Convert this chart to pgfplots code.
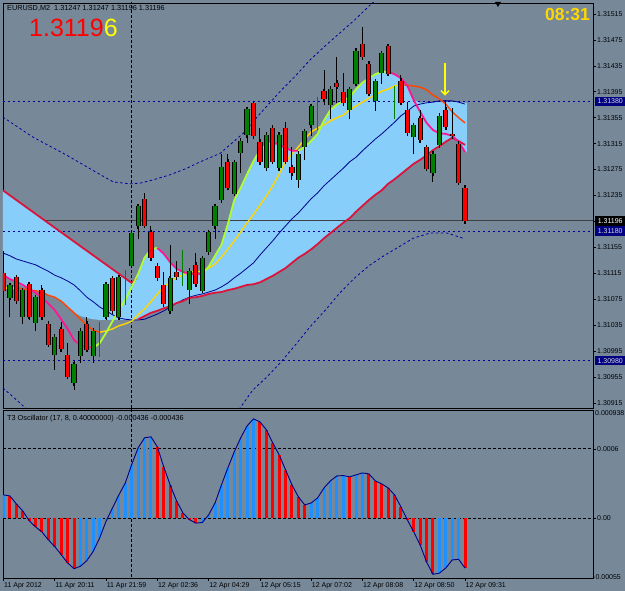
\documentclass[border=0pt]{standalone}
\usepackage{pgfplots}
\pgfplotsset{compat=1.18}
\usepackage{pgfplotstable}
\usepackage{fontspec}
\setmainfont{Liberation Sans}
\usetikzlibrary{arrows.meta}

\definecolor{bgc}{RGB}{119,136,153}
\definecolor{cloud}{RGB}{135,206,250}
\definecolor{cgreen}{RGB}{0,128,0}
\definecolor{cred}{RGB}{255,0,0}
\definecolor{mtlime}{RGB}{173,255,47}
\definecolor{mtpink}{RGB}{255,20,147}
\definecolor{mtcrim}{RGB}{220,20,60}
\definecolor{mtyel}{RGB}{255,215,0}
\definecolor{mtorng}{RGB}{255,69,0}
\definecolor{mtnavy}{RGB}{0,0,139}
\definecolor{dashb}{RGB}{0,0,160}
\definecolor{oblue}{RGB}{30,144,255}
\definecolor{boxb}{RGB}{0,0,128}
\definecolor{arrowy}{RGB}{255,255,0}

% candles: i open high low close
\pgfplotstableread{
i o h l c
0 1.31117 1.31151 1.31086 1.31089
2 1.31109 1.31112 1.31069 1.31072
4 1.31098 1.31101 1.31044 1.31048
6 1.31089 1.31098 1.31044 1.31048
7 1.31038 1.31041 1.31003 1.31006
9 1.31029 1.31040 1.30995 1.30998
10 1.30989 1.31007 1.30953 1.30956
13 1.31038 1.31048 1.30995 1.30998
17 1.31109 1.31112 1.31055 1.31058
22 1.31230 1.31239 1.31186 1.31189
23 1.31179 1.31189 1.31135 1.31139
24 1.31128 1.31131 1.31106 1.31109
25 1.31098 1.31118 1.31066 1.31069
27 1.31118 1.31135 1.31106 1.31109
30 1.31128 1.31148 1.31095 1.31098
35 1.31288 1.31300 1.31245 1.31248
39 1.31379 1.31382 1.31325 1.31328
40 1.31319 1.31339 1.31284 1.31287
42 1.31339 1.31342 1.31284 1.31287
44 1.31339 1.31348 1.31284 1.31287
45 1.31279 1.31310 1.31259 1.31270
50 1.31396 1.31429 1.31375 1.31385
52 1.31410 1.31450 1.31378 1.31404
53 1.31395 1.31424 1.31375 1.31378
56 1.31469 1.31495 1.31446 1.31449
57 1.31439 1.31443 1.31390 1.31393
60 1.31466 1.31469 1.31421 1.31424
62 1.31412 1.31421 1.31375 1.31378
63 1.31368 1.31379 1.31330 1.31333
65 1.31355 1.31367 1.31317 1.31321
66 1.31310 1.31313 1.31274 1.31277
69 1.31368 1.31382 1.31338 1.31341
70 1.31330 1.31371 1.31324 1.31327
71 1.31316 1.31319 1.31253 1.31256
72 1.31247 1.31247 1.31196 1.31196
}\redcandles

\pgfplotstableread{
i o h l c
1 1.31078 1.31100 1.31048 1.31097
3 1.31048 1.31092 1.31038 1.31089
5 1.31038 1.31081 1.31027 1.31078
8 1.30989 1.31020 1.30967 1.31017
11 1.30947 1.30980 1.30935 1.30976
12 1.30989 1.31030 1.30976 1.31027
14 1.30989 1.31030 1.30976 1.31027
16 1.31048 1.31101 1.31044 1.31098
18 1.31048 1.31112 1.31044 1.31109
20 1.31128 1.31182 1.31125 1.31179
21 1.31189 1.31222 1.31169 1.31219
26 1.31058 1.31159 1.31055 1.31109
29 1.31089 1.31121 1.31069 1.31118
31 1.31089 1.31142 1.31086 1.31139
32 1.31148 1.31182 1.31145 1.31179
33 1.31188 1.31222 1.31169 1.31219
34 1.31228 1.31300 1.31225 1.31279
36 1.31239 1.31291 1.31236 1.31288
37 1.31300 1.31322 1.31270 1.31319
38 1.31328 1.31371 1.31317 1.31368
41 1.31279 1.31333 1.31276 1.31330
43 1.31279 1.31333 1.31276 1.31330
46 1.31259 1.31303 1.31248 1.31300
47 1.31310 1.31337 1.31290 1.31334
48 1.31344 1.31376 1.31328 1.31373
51 1.31375 1.31404 1.31355 1.31401
54 1.31367 1.31402 1.31353 1.31399
55 1.31408 1.31463 1.31405 1.31459
58 1.31382 1.31415 1.31367 1.31412
59 1.31424 1.31458 1.31408 1.31455
64 1.31325 1.31347 1.31300 1.31344
67 1.31270 1.31303 1.31256 1.31300
68 1.31313 1.31361 1.31310 1.31358
}\greencandles

\pgfplotstableread{
i h l
15 1.31038 1.30989
19 1.31118 1.31069
28 1.31149 1.31098
49 1.31385 1.31339
61 1.31402 1.31356
}\dojis

% T3 oscillator
\pgfplotstableread{
i v
0 0.000200
1 0.000191
2 0.000122
3 0.000061
4 -0.000023
5 -0.000078
6 -0.000122
7 -0.000191
8 -0.000249
9 -0.000319
10 -0.000391
11 -0.000441
12 -0.000420
13 -0.000371
14 -0.000290
15 -0.000174
16 -0.000029
17 0.000087
18 0.000200
19 0.000304
20 0.000464
21 0.000609
22 0.000696
23 0.000705
24 0.000618
25 0.000443
26 0.000287
27 0.000148
28 0.000043
29 -0.000015
30 -0.000045
31 -0.000040
32 0.000026
33 0.000130
34 0.000287
35 0.000435
36 0.000574
37 0.000696
38 0.000800
39 0.000861
40 0.000835
41 0.000766
42 0.000652
43 0.000548
44 0.000418
45 0.000287
46 0.000183
47 0.000113
48 0.000130
49 0.000174
50 0.000261
51 0.000322
52 0.000365
53 0.000368
54 0.000357
55 0.000374
56 0.000391
57 0.000383
58 0.000322
59 0.000296
60 0.000261
61 0.000200
62 0.000096
63 -0.000017
64 -0.000122
65 -0.000235
66 -0.000383
67 -0.000490
68 -0.000480
69 -0.000435
70 -0.000365
71 -0.000360
72 -0.000436
}\osc

\pgfplotstableread{
i v
0 0.000200
12 -0.000420
13 -0.000371
14 -0.000290
15 -0.000174
16 -0.000029
17 0.000087
18 0.000200
19 0.000304
20 0.000464
21 0.000609
22 0.000696
23 0.000705
31 -0.000040
32 0.000026
33 0.000130
34 0.000287
35 0.000435
36 0.000574
37 0.000696
38 0.000800
39 0.000861
48 0.000130
49 0.000174
50 0.000261
51 0.000322
52 0.000365
53 0.000368
55 0.000374
56 0.000391
68 -0.000480
69 -0.000435
70 -0.000365
71 -0.000360
}\oscblue

\pgfplotstableread{
i v
1 0.000191
2 0.000122
3 0.000061
4 -0.000023
5 -0.000078
6 -0.000122
7 -0.000191
8 -0.000249
9 -0.000319
10 -0.000391
11 -0.000441
24 0.000618
25 0.000443
26 0.000287
27 0.000148
28 0.000043
29 -0.000015
30 -0.000045
40 0.000835
41 0.000766
42 0.000652
43 0.000548
44 0.000418
45 0.000287
46 0.000183
47 0.000113
54 0.000357
57 0.000383
58 0.000322
59 0.000296
60 0.000261
61 0.000200
62 0.000096
63 -0.000017
64 -0.000122
65 -0.000235
66 -0.000383
67 -0.000490
72 -0.000436
}\oscred

\pgfplotsset{
  mt/.style={scale only axis, width=590pt, xmin=-0.078, xmax=91.96,
    axis line style={black, line width=0.8pt},
    tick style={black, line width=0.6pt},
    clip mode=individual, scaled y ticks=false, scaled x ticks=false,
    tick align=outside, major tick length=3pt,
    ticklabel style={font=\fontsize{7}{8}\selectfont, text=black},
  },
  wick/.style={draw=none, mark=none, forget plot,
    error bars/.cd, y dir=both, y explicit, error mark=none,
    error bar style={draw=black, line width=1pt}},
  bodyout/.style={draw=none, mark=none, forget plot,
    error bars/.cd, y dir=both, y explicit, error mark=-,
    error mark options={draw=black, line width=1.4pt, mark size=2.6pt},
    error bar style={draw=black, line width=5.2pt}},
  bodyfill/.style={draw=none, mark=none, forget plot,
    error bars/.cd, y dir=both, y explicit, error mark=none,
    error bar style={draw=#1, line width=3.2pt}},
}

\begin{document}
\begin{tikzpicture}[x=1pt,y=1pt]
\path[use as bounding box] (0,0) rectangle (625,591);
\fill[bgc] (0,0) rectangle (625,591);

% ---------------- main price panel ----------------
\begin{axis}[mt, at={(3pt,183pt)}, anchor=south west, height=405pt,
  ymin=1.309071, ymax=1.315320,
  xtick=\empty,
  ytick={1.30915,1.30955,1.30995,1.31035,1.31075,1.31115,1.31155,1.31195,1.31235,1.31275,1.31315,1.31355,1.31395,1.31435,1.31475,1.31515},
  yticklabels={1.30915,1.30955,1.30995,1.31035,1.31075,1.31115,1.31155,1.31195,1.31235,1.31275,1.31315,1.31355,1.31395,1.31435,1.31475,1.31515},
  ytick pos=right, yticklabel pos=right,
  yticklabel style={anchor=west, inner sep=0pt, xshift=1pt},
]
% cloud
\addplot[fill=cloud, draw=none, forget plot] coordinates {
(-0.1,1.31243) (20,1.31100) (20.8,1.31108)
(21,1.31114) (22,1.31139) (23,1.31152) (24,1.31154) (25,1.31145) (26,1.31132) (27,1.31122) (28,1.31117) (29,1.31114) (30,1.31114) (31,1.31114) (32,1.31125) (33,1.31142) (34,1.31159) (35,1.31191) (36,1.31228) (37,1.31247) (38,1.31268) (39,1.31288) (40,1.31305) (41,1.31313) (42,1.31316) (43,1.31314) (44,1.31308) (45,1.31304) (46,1.31304) (47,1.31310) (48,1.31319) (49,1.31330) (50,1.31351) (51,1.31367) (52,1.31375) (53,1.31381) (54,1.31387) (55,1.31399) (56,1.31409) (57,1.31416) (58,1.31422) (59,1.31426) (60,1.31426) (61,1.31422) (62,1.31416) (63,1.31404) (64,1.31382) (65,1.31378) (66,1.31379) (67,1.31379) (68,1.31379) (69,1.31379) (70,1.31379) (71,1.31379) (72.3,1.31378)
(72.3,1.31302) (72,1.31302) (71,1.31318) (70,1.31324) (69,1.31318) (68,1.31311) (67,1.31305) (66,1.31297) (65,1.31290) (64,1.31284) (63,1.31276) (62,1.31268) (61,1.31260) (60,1.31253) (59,1.31243) (58,1.31236) (57,1.31228) (56,1.31219) (55,1.31210) (54,1.31200) (53,1.31193) (52,1.31185) (51,1.31177) (50,1.31169) (49,1.31160) (48,1.31152) (47,1.31145) (46,1.31139) (45,1.31131) (44,1.31123) (43,1.31117) (42,1.31111) (41,1.31106) (40,1.31101) (39,1.31098) (38,1.31097) (37,1.31094) (36,1.31091) (35,1.31089) (34,1.31086) (33,1.31085) (32,1.31083) (31,1.31080) (30,1.31078) (29,1.31077) (28,1.31072) (27,1.31069) (26,1.31064) (25,1.31061) (24,1.31057) (23,1.31054) (22,1.31049) (21,1.31044) (20,1.31043) (15,1.31043) (14,1.31044) (13,1.31046) (12,1.31049) (11,1.31055) (10,1.31063) (9,1.31072) (8,1.31078) (7,1.31081) (6,1.31086) (5,1.31088) (4,1.31091) (3,1.31095) (2,1.31100) (1,1.31106) (-0.1,1.31112)
} --cycle;

% envelope bands (dashed)
\addplot[dashb, line width=0.8pt, dash pattern=on 2.5pt off 2.5pt, forget plot] coordinates {
(-0.1,1.31356) (4.6,1.31325) (9.9,1.31297) (14.6,1.31270) (17.1,1.31256) (19.7,1.31253) (21.3,1.31254) (23.3,1.31259) (26.0,1.31267) (28.6,1.31277) (30.7,1.31287) (33.8,1.31300) (37.4,1.31331) (40.0,1.31361) (43.1,1.31395) (45.5,1.31419) (47.8,1.31444) (50.2,1.31466) (52.5,1.31486) (54.8,1.31506) (57.2,1.31529) (59.5,1.31549)};
\addplot[dashb, line width=0.8pt, dash pattern=on 2.5pt off 2.5pt, forget plot] coordinates {
(-0.1,1.30938) (2.1,1.30919) (4.1,1.30901)};
\addplot[dashb, line width=0.8pt, dash pattern=on 2.5pt off 2.5pt, forget plot] coordinates {
(35.0,1.30889) (36.9,1.30907) (38.9,1.30935) (41.1,1.30955) (43.1,1.30976) (45.5,1.31004) (47.8,1.31032) (50.2,1.31058) (52.5,1.31085) (54.8,1.31108) (57.2,1.31128) (59.5,1.31143) (61.4,1.31154) (63.9,1.31169) (66.5,1.31177) (69.2,1.31177) (71.7,1.31169)};

% horizontal levels
\addplot[dashb, line width=0.8pt, dash pattern=on 2.5pt off 2.5pt, forget plot] coordinates {(-0.1,1.31380) (92,1.31380)};
\addplot[dashb, line width=0.8pt, dash pattern=on 2.5pt off 2.5pt, forget plot] coordinates {(-0.1,1.31180) (92,1.31180)};
\addplot[dashb, line width=0.8pt, dash pattern=on 2.5pt off 2.5pt, forget plot] coordinates {(-0.1,1.30980) (92,1.30980)};
\addplot[black!75, line width=1.2pt, forget plot] coordinates {(6.47,1.31196) (92,1.31196)};
% period separator
\addplot[black, line width=0.8pt, dash pattern=on 3pt off 2pt, forget plot] coordinates {(19.97,1.3090) (19.97,1.3154)};

% navy MA
\addplot[mtnavy, line width=0.8pt, forget plot] coordinates {
(0,1.31146) (1,1.31142) (2,1.31137) (3,1.31134) (4,1.31131) (5,1.31128) (6,1.31123) (7,1.31118) (8,1.31112) (9,1.31108) (10,1.31103) (11,1.31097) (12,1.31088) (13,1.31078) (14,1.31071) (15,1.31063) (16,1.31057) (17,1.31051) (18,1.31046) (19,1.31044) (20,1.31043) (21,1.31043) (22,1.31044) (23,1.31048) (24,1.31052) (25,1.31057) (26,1.31063) (27,1.31069) (28,1.31074) (29,1.31078) (30,1.31081) (31,1.31083) (32,1.31086) (33,1.31089) (34,1.31094) (35,1.31100) (36,1.31108) (37,1.31115) (38,1.31123) (39,1.31131) (40,1.31143) (41,1.31154) (42,1.31165) (43,1.31177) (44,1.31188) (45,1.31199) (46,1.31208) (47,1.31219) (48,1.31230) (49,1.31239) (50,1.31250) (51,1.31259) (52,1.31268) (53,1.31277) (54,1.31287) (55,1.31294) (56,1.31304) (57,1.31313) (58,1.31322) (59,1.31330) (60,1.31339) (61,1.31348) (62,1.31358) (63,1.31365) (64,1.31373) (65,1.31376) (66,1.31378) (67,1.31379) (68,1.31381) (69,1.31381) (70,1.31381) (71,1.31379) (72,1.31376)};

% yellow / orange MA
\addplot[mtyel, line width=1.4pt, forget plot] coordinates {(0,1.31092) (1,1.31092) (2,1.31092)};
\addplot[mtorng, line width=1.4pt, forget plot] coordinates {
(2,1.31092) (3,1.31091) (4,1.31089) (5,1.31088) (6,1.31086) (7,1.31081) (8,1.31078) (9,1.31072) (10,1.31063) (11,1.31054) (12,1.31044) (13,1.31035) (14,1.31027) (15,1.31024)};
\addplot[mtyel, line width=1.4pt, forget plot] coordinates {
(15,1.31024) (16,1.31026) (17,1.31029) (18,1.31034) (19,1.31037) (20,1.31041) (21,1.31051) (22,1.31060) (23,1.31071) (24,1.31083) (25,1.31094) (26,1.31102) (27,1.31109) (28,1.31112) (29,1.31117) (30,1.31118) (31,1.31118) (32,1.31123) (33,1.31129) (34,1.31140) (35,1.31152) (36,1.31165) (37,1.31179) (38,1.31193) (39,1.31206) (40,1.31220) (41,1.31234) (42,1.31250) (43,1.31268) (44,1.31287) (45,1.31299) (46,1.31310) (47,1.31322) (48,1.31333) (49,1.31339) (50,1.31344) (51,1.31350) (52,1.31355) (53,1.31359) (54,1.31367) (55,1.31373) (56,1.31379) (57,1.31385) (58,1.31390) (59,1.31396) (60,1.31399) (61,1.31404) (62,1.31406)};
\addplot[mtorng, line width=1.4pt, forget plot] coordinates {
(62,1.31406) (63,1.31405) (64,1.31404) (65,1.31402) (66,1.31398) (67,1.31390) (68,1.31384) (69,1.31376) (70,1.31364) (71,1.31355) (72,1.31347)};

% crimson slow line
\addplot[mtcrim, line width=1.8pt, forget plot] coordinates {(-0.1,1.31243) (10,1.31171) (20,1.31100) (20.8,1.31108)};
\addplot[mtcrim, line width=1.8pt, forget plot] coordinates {
(21,1.31044) (22,1.31049) (23,1.31054) (24,1.31057) (25,1.31061) (26,1.31064) (27,1.31069) (28,1.31072) (29,1.31077) (30,1.31078) (31,1.31080) (32,1.31083) (33,1.31085) (34,1.31086) (35,1.31089) (36,1.31091) (37,1.31094) (38,1.31097) (39,1.31098) (40,1.31101) (41,1.31106) (42,1.31111) (43,1.31117) (44,1.31123) (45,1.31131) (46,1.31139) (47,1.31145) (48,1.31152) (49,1.31160) (50,1.31169) (51,1.31177) (52,1.31185) (53,1.31193) (54,1.31200) (55,1.31210) (56,1.31219) (57,1.31228) (58,1.31236) (59,1.31243) (60,1.31253) (61,1.31260) (62,1.31268) (63,1.31276) (64,1.31284) (65,1.31290) (66,1.31297) (67,1.31305) (68,1.31311) (69,1.31318) (70,1.31324) (71,1.31319) (72,1.31313)};

% fast line: lime rising, pink falling
\addplot[mtpink, line width=1.8pt, forget plot] coordinates {
(0,1.31112) (1,1.31106) (2,1.31102) (3,1.31097) (4,1.31091) (5,1.31085) (6,1.31078) (7,1.31068) (8,1.31058) (9,1.31044) (10,1.31029) (11,1.31012) (12,1.31004) (13,1.31001) (14,1.31000)};
\addplot[mtlime, line width=1.8pt, forget plot] coordinates {
(14,1.31000) (15,1.31007) (16,1.31023) (17,1.31041) (18,1.31058) (19,1.31074) (20,1.31094) (21,1.31114) (22,1.31139) (23,1.31152) (24,1.31154)};
\addplot[mtpink, line width=1.8pt, forget plot] coordinates {
(24,1.31154) (25,1.31145) (26,1.31132) (27,1.31122) (28,1.31117) (29,1.31114) (30,1.31114) (31,1.31114)};
\addplot[mtlime, line width=1.8pt, forget plot] coordinates {
(31,1.31114) (32,1.31125) (33,1.31142) (34,1.31159) (35,1.31191) (36,1.31228) (37,1.31247) (38,1.31268) (39,1.31288) (40,1.31305) (41,1.31313) (42,1.31316)};
\addplot[mtpink, line width=1.8pt, forget plot] coordinates {
(42,1.31316) (43,1.31314) (44,1.31308) (45,1.31304) (46,1.31304)};
\addplot[mtlime, line width=1.8pt, forget plot] coordinates {
(46,1.31304) (47,1.31310) (48,1.31319) (49,1.31330) (50,1.31351) (51,1.31367) (52,1.31375) (53,1.31381) (54,1.31387) (55,1.31399) (56,1.31409) (57,1.31416) (58,1.31422) (59,1.31426) (60,1.31426)};
\addplot[mtpink, line width=1.8pt, forget plot] coordinates {
(60,1.31426) (61,1.31422) (62,1.31416) (63,1.31404) (64,1.31382) (65,1.31364) (66,1.31347) (67,1.31336) (68,1.31331) (69,1.31330) (70,1.31327) (71,1.31318) (72,1.31302)};

% candles
\addplot[wick] table[x=i, y expr=(\thisrow{h}+\thisrow{l})/2, y error expr=(\thisrow{h}-\thisrow{l})/2] {\redcandles};
\addplot[wick] table[x=i, y expr=(\thisrow{h}+\thisrow{l})/2, y error expr=(\thisrow{h}-\thisrow{l})/2] {\greencandles};
\addplot[bodyout] table[x=i, y expr=(\thisrow{o}+\thisrow{c})/2, y error expr=abs(\thisrow{o}-\thisrow{c})/2] {\redcandles};
\addplot[bodyout] table[x=i, y expr=(\thisrow{o}+\thisrow{c})/2, y error expr=abs(\thisrow{o}-\thisrow{c})/2] {\greencandles};
\addplot[bodyfill=cred] table[x=i, y expr=(\thisrow{o}+\thisrow{c})/2, y error expr=abs(\thisrow{o}-\thisrow{c})/2] {\redcandles};
\addplot[bodyfill=cgreen] table[x=i, y expr=(\thisrow{o}+\thisrow{c})/2, y error expr=abs(\thisrow{o}-\thisrow{c})/2] {\greencandles};
\addplot[draw=none, mark=none, forget plot,
  error bars/.cd, y dir=both, y explicit, error mark=-,
  error mark options={draw=cgreen, line width=1pt, mark size=1.6pt},
  error bar style={draw=cgreen, line width=1pt}]
  table[x=i, y expr=(\thisrow{h}+\thisrow{l})/2, y error expr=(\thisrow{h}-\thisrow{l})/2] {\dojis};

% signal arrow
\draw[arrowy, line width=1.5pt, -{Straight Barb[length=4pt,width=8pt]}] (axis cs:68.88,1.31439) -- (axis cs:68.88,1.31389);

% price boxes on the scale
\node[fill=boxb, text=white!85!black, font=\fontsize{7}{8}\selectfont, inner sep=0pt, minimum width=30pt, minimum height=9.5pt, anchor=west] at (axis cs:91.96,1.31380) [xshift=2pt] {1.31380};
\node[fill=black, text=white, font=\fontsize{7}{8}\selectfont, inner sep=0pt, minimum width=30pt, minimum height=9.5pt, anchor=west] at (axis cs:91.96,1.31196) [xshift=2pt] {1.31196};
\node[fill=boxb, text=white!85!black, font=\fontsize{7}{8}\selectfont, inner sep=0pt, minimum width=30pt, minimum height=9.5pt, anchor=west] at (axis cs:91.96,1.31180) [xshift=2pt] {1.31180};
\node[fill=boxb, text=white!85!black, font=\fontsize{7}{8}\selectfont, inner sep=0pt, minimum width=30pt, minimum height=9.5pt, anchor=west] at (axis cs:91.96,1.30980) [xshift=2pt] {1.30980};
\end{axis}

% ---------------- oscillator panel ----------------
\begin{axis}[mt, at={(3pt,13pt)}, anchor=south west, height=168pt,
  ymin=-0.000522, ymax=0.000938,
  xtick={0,8,16,24,32,40,48,56,64,72},
  xticklabels={11 Apr 2012,11 Apr 20:11,11 Apr 21:59,12 Apr 02:36,12 Apr 04:29,12 Apr 05:15,12 Apr 07:02,12 Apr 08:08,12 Apr 08:50,12 Apr 09:31},
  xtick pos=bottom,
  xticklabel style={anchor=north west, inner sep=0pt, xshift=0.5pt, yshift=-1pt},
  ytick={0,0.0006}, yticklabels={0.00,0.0006},
  ytick pos=right, yticklabel pos=right,
  yticklabel style={anchor=west, inner sep=0pt, xshift=1pt},
]
\addplot[black, line width=0.8pt, dash pattern=on 3pt off 2pt, forget plot] coordinates {(-0.1,0.0006) (92,0.0006)};
\addplot[black, line width=0.8pt, dash pattern=on 3pt off 2pt, forget plot] coordinates {(-0.1,0) (92,0)};
\addplot[black, line width=0.8pt, dash pattern=on 3pt off 2pt, forget plot] coordinates {(19.97,-0.0006) (19.97,0.001)};
\addplot[ycomb, oblue, line width=3pt, mark=none, forget plot] table[x=i, y=v] {\oscblue};
\addplot[ycomb, cred, line width=3pt, mark=none, forget plot] table[x=i, y=v] {\oscred};
\addplot[mtnavy, line width=0.9pt, mark=none, forget plot] table[x=i, y=v] {\osc};
\node[anchor=west, inner sep=0pt, font=\fontsize{7}{8}\selectfont] at (rel axis cs:1,1) [xshift=2pt, yshift=-3pt] {0.000938};
\node[anchor=west, inner sep=0pt, font=\fontsize{7}{8}\selectfont] at (rel axis cs:1,0) [xshift=0pt, yshift=1pt] {-0.00055};
\end{axis}

% ---------------- texts ----------------
\node[anchor=base west, inner sep=0pt, font=\fontsize{7.3}{8}\selectfont] at (7,580) {EURUSD,M2\ \ 1.31247 1.31247 1.31196 1.31196};
\node[anchor=base west, inner sep=0pt, font=\fontsize{25}{28}\selectfont] at (29,554) {\textcolor{red}{1.3119}\textcolor{arrowy}{6}};
\node[anchor=base east, inner sep=0pt, font=\bfseries\fontsize{17.5}{20}\selectfont, text=mtyel] at (590,570) {08:31};
\node[anchor=base west, inner sep=0pt, font=\fontsize{7.3}{8}\selectfont] at (7,170) {T3 Oscillator (17, 8, 0.40000000) -0.000436 -0.000436};
\fill[black] (495,589) -- (501,589) -- (498,584) -- cycle;
\end{tikzpicture}
\end{document}
